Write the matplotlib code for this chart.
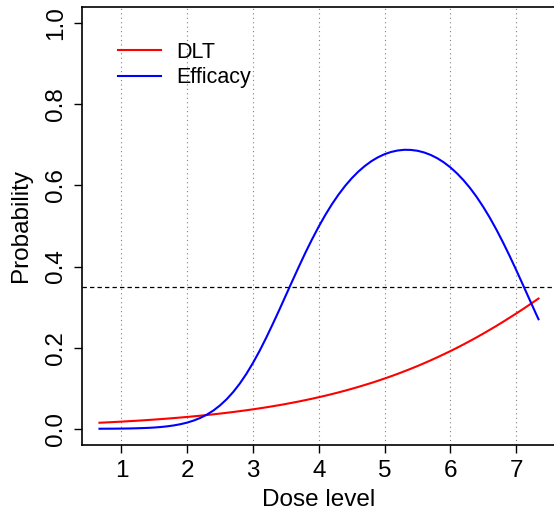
import matplotlib
matplotlib.use("Agg")
import matplotlib.pyplot as plt

plt.rcParams['font.family'] = ['Liberation Sans', 'DejaVu Sans']

# dose grid and probabilities
dose = [0.666, 0.8, 0.9, 1.0, 1.1, 1.2, 1.3, 1.4, 1.5, 1.6, 1.7, 1.8, 1.9,
        2.0, 2.1, 2.2, 2.3, 2.4, 2.5, 2.6, 2.7, 2.8, 2.9,
        3.0, 3.1, 3.2, 3.3, 3.4, 3.5, 3.6, 3.7, 3.8, 3.9,
        4.0, 4.1, 4.2, 4.3, 4.4, 4.5, 4.6, 4.7, 4.8, 4.9,
        5.0, 5.1, 5.2, 5.3, 5.4, 5.5, 5.6, 5.7, 5.8, 5.9,
        6.0, 6.1, 6.2, 6.3, 6.4, 6.5, 6.6, 6.7, 6.8, 6.9,
        7.0, 7.1, 7.2, 7.3, 7.34]
p_dlt = [0.0149, 0.0159, 0.0168, 0.0176, 0.0186, 0.0195, 0.0205, 0.0216, 0.0227,
         0.0239, 0.0251, 0.0264, 0.0278,
         0.0292, 0.0307, 0.0323, 0.0339, 0.0357, 0.0375, 0.0394, 0.0414, 0.0435,
         0.0457,
         0.0480, 0.0504, 0.0529, 0.0556, 0.0583, 0.0612, 0.0643, 0.0674, 0.0708,
         0.0742,
         0.0779, 0.0816, 0.0856, 0.0897, 0.0940, 0.0985, 0.1032, 0.1081, 0.1131,
         0.1184,
         0.1239, 0.1296, 0.1355, 0.1417, 0.1481, 0.1547, 0.1616, 0.1687, 0.1761,
         0.1837,
         0.1915, 0.1996, 0.2080, 0.2166, 0.2255, 0.2347, 0.2441, 0.2537, 0.2636,
         0.2738,
         0.2842, 0.2947, 0.3056, 0.3167, 0.3211]
p_eff = [0.0001, 0.0002, 0.0003, 0.0005, 0.0007, 0.0011, 0.0016, 0.0022, 0.0031,
         0.0044, 0.0061, 0.0084, 0.0114,
         0.0153, 0.0204, 0.0269, 0.0351, 0.0453, 0.0579, 0.0730, 0.0909, 0.1117,
         0.1357,
         0.1626, 0.1922, 0.2243, 0.2583, 0.2934, 0.3294, 0.3654, 0.4008, 0.4354,
         0.4680,
         0.4989, 0.5275, 0.5538, 0.5775, 0.5988, 0.6176, 0.6340, 0.6480, 0.6599,
         0.6695,
         0.6771, 0.6826, 0.6862, 0.6879, 0.6876, 0.6855, 0.6814, 0.6753, 0.6672,
         0.6570,
         0.6446, 0.6299, 0.6129, 0.5935, 0.5716, 0.5471, 0.5203, 0.4911, 0.4597,
         0.4265,
         0.3918, 0.3562, 0.3201, 0.2842, 0.2701]
target = 0.35
xticks = [1, 2, 3, 4, 5, 6, 7]
yticks = [0.0, 0.2, 0.4, 0.6, 0.8, 1.0]

fig = plt.figure(figsize=(5.54, 5.12), dpi=100)
ax = fig.add_axes([82 / 554, 67 / 512, 474 / 554, 438 / 512])

for x in xticks:
    ax.axvline(x, color='gray', lw=0.8, ls=(0, (1, 3)), zorder=1)
ax.axhline(target, color='black', lw=0.9, ls=(0, (3.5, 2.5)), zorder=2)

ax.plot(dose, p_dlt, color='red', lw=1.5, label='DLT', zorder=3)
ax.plot(dose, p_eff, color='blue', lw=1.5, label='Efficacy', zorder=3)

ax.set_xlim(0.4, 7.606)
ax.set_ylim(-0.04, 1.04)
ax.set_xticks(xticks)
ax.set_xticklabels([str(x) for x in xticks])
ax.set_yticks(yticks)
ax.set_yticklabels([f"{y:.1f}" for y in yticks], rotation=90, va='center')
ax.tick_params(labelsize=17.5, length=6, width=1, pad=5)
for s in ax.spines.values():
    s.set_linewidth(1.2)

ax.set_xlabel('Dose level', fontsize=17.5, labelpad=5)
ax.set_ylabel('Probability', fontsize=17.5, labelpad=9)

ax.legend(loc='upper left', bbox_to_anchor=(118 / 554, 1 - 42 / 512),
          bbox_transform=fig.transFigure, frameon=False, fontsize=15.5,
          handlelength=2.0, handletextpad=0.7, borderpad=0, borderaxespad=0,
          labelspacing=0.2)

fig.savefig('out.png', dpi=100)
